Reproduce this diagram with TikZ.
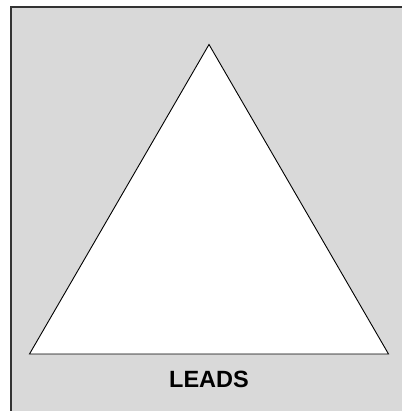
\documentclass[tikz,border=0pt]{standalone}
\usepackage{fontspec}
\setmainfont{Liberation Sans}
\definecolor{bg}{HTML}{D9D9D9}
\begin{document}
\begin{tikzpicture}[x=1pt,y=1pt,
  tri/.style={draw=black,fill=white,line width=0.9pt,line join=miter},
  label/.style={font=\fontsize{23.5}{27}\selectfont\bfseries,text=black,inner sep=0pt}]
\useasboundingbox (0,0) rectangle (402,411);
\fill[white] (0,0) rectangle (402,411);
\fill[bg] (11,0) rectangle (402,404);
\draw[line width=1.6pt,draw=black!80] (11,0) -- (11,404) -- (402,404);
\coordinate (apex) at (209,366.5);
\coordinate (bl) at (29.5,57);
\coordinate (br) at (388.5,57);
\draw[tri] (apex) -- (bl) -- (br) -- cycle;
\node[label,anchor=base] (leads) at (209,23) {LEADS};
\end{tikzpicture}
\end{document}
